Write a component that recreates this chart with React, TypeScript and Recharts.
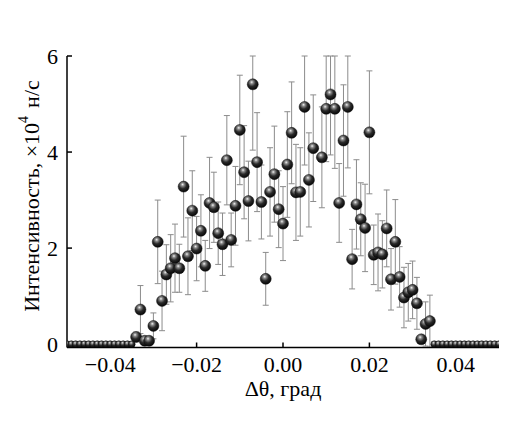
import React from 'react';
import { ScatterChart, Scatter, XAxis, YAxis, ErrorBar, Label } from 'recharts';

// measured points (Δθ in degrees, intensity in 1e4 counts/s)
const xCentral = [
  -0.034, -0.033, -0.032, -0.031, -0.03, -0.029, -0.028, -0.027, -0.026, -0.025,
  -0.024, -0.023, -0.022, -0.021, -0.02, -0.019, -0.018, -0.017, -0.016, -0.015,
  -0.014, -0.013, -0.012, -0.011, -0.01, -0.009, -0.008, -0.007, -0.006, -0.005,
  -0.004, -0.003, -0.002, -0.001, 0.0, 0.001, 0.002, 0.003, 0.004, 0.005,
  0.006, 0.007, 0.009, 0.01, 0.011, 0.012, 0.013, 0.014, 0.015,
  0.016, 0.017, 0.018, 0.019, 0.02, 0.021, 0.022, 0.023, 0.024, 0.025,
  0.026, 0.027, 0.028, 0.029, 0.03, 0.031, 0.032, 0.033, 0.034,
];
const yCentral = [
  0.15, 0.72, 0.07, 0.07, 0.38, 2.13, 0.9, 1.45, 1.58, 1.79,
  1.58, 3.28, 1.83, 2.78, 1.99, 2.36, 1.63, 2.94, 2.85, 2.31,
  2.08, 3.83, 2.17, 2.88, 4.46, 3.58, 2.98, 5.41, 3.79, 2.96,
  1.36, 3.17, 3.54, 2.81, 2.51, 3.74, 4.4, 3.16, 3.17, 4.94,
  3.42, 4.08, 3.89, 4.9, 5.2, 4.9, 2.94, 4.24, 4.94,
  1.77, 2.91, 2.6, 2.42, 4.41, 1.86, 1.91, 1.87, 2.41, 1.35,
  2.13, 1.4, 0.97, 1.08, 1.13, 0.85, 0.1, 0.42, 0.48,
];
const errCentral = [
  0.1, 0.5, 0.05, 0.05, 0.27, 0.87, 0.62, 0.62, 0.7, 0.71,
  0.5, 1.05, 0.8, 0.83, 0.67, 0.75, 0.53, 0.95, 0.73, 0.65,
  0.65, 0.93, 0.56, 0.82, 1.14, 0.97, 0.83, 1.37, 1.03, 0.77,
  0.55, 0.92, 1.0, 0.8, 0.77, 1.1, 1.06, 1.0, 0.92, 1.21,
  0.98, 1.11, 1.05, 1.1, 1.26, 1.24, 0.82, 1.16, 1.27,
  0.62, 0.93, 0.76, 0.91, 1.28, 0.62, 0.8, 0.7, 0.8, 0.64,
  0.88, 0.63, 0.63, 0.6, 0.6, 0.54, 0.05, 0.46, 0.54,
];

// background points outside the peak
const xZeroLeft = [
  -0.05, -0.049, -0.048, -0.047, -0.046, -0.045, -0.044, -0.043,
  -0.042, -0.041, -0.04, -0.039, -0.038, -0.037, -0.036, -0.035,
];
const xZeroRight = [
  0.035, 0.036, 0.037, 0.038, 0.039, 0.04, 0.041, 0.042,
  0.043, 0.044, 0.045, 0.046, 0.047, 0.048, 0.049, 0.05,
];

const xTicks = [-0.04, -0.02, 0, 0.02, 0.04];
const yTicks = [0, 2, 4, 6];
const Y_MAX = 6;

// error range is [down, up]; the upper part is cut at the top of the frame
const peakData = xCentral.map((x, i) => ({
  x,
  y: yCentral[i],
  errRange: [errCentral[i], Math.max(0, Math.min(errCentral[i], Y_MAX - yCentral[i]))],
}));
const zeroData = [...xZeroLeft, ...xZeroRight].map((x) => ({ x, y: 0 }));

const FONT = '"Liberation Serif", "Times New Roman", serif';

function formatX(v: number): string {
  const s = Math.abs(v).toFixed(2);
  return v < 0 ? `\u2212${s}` : s;
}

const Ball = (r: number) => (props: any) => {
  if (props.cx == null || props.cy == null) return null;
  return <circle cx={props.cx} cy={props.cy} r={r} fill="url(#ball)" stroke="#111" strokeWidth={0.5} />;
};

function YTitle() {
  const cx = 31;
  const cy = 196;
  return (
    <text
      x={cx}
      y={cy}
      transform={`rotate(-90 ${cx} ${cy})`}
      textAnchor="middle"
      dominantBaseline="central"
      fontFamily={FONT}
      fontSize={22}
      fill="#000"
    >
      Интенсивность, ×10
      <tspan baselineShift="super" fontSize={14}>4</tspan>
      <tspan dx={8}>н/с</tspan>
    </text>
  );
}

export default function App() {
  return (
    <div style={{ position: 'absolute', left: 0, top: 0, width: 528, height: 421, background: '#fff' }}>
      <ScatterChart width={528} height={421} margin={{ top: 56, right: 29, bottom: 43.5, left: 7 }}>
        <defs>
          <radialGradient id="ball" cx="0.42" cy="0.35" r="0.65" fx="0.4" fy="0.3">
            <stop offset="0%" stopColor="#f2f2f2" />
            <stop offset="22%" stopColor="#8a8a8a" />
            <stop offset="55%" stopColor="#2a2a2a" />
            <stop offset="100%" stopColor="#050505" />
          </radialGradient>
        </defs>
        <XAxis
          type="number"
          dataKey="x"
          domain={[-0.05, 0.05]}
          allowDataOverflow
          ticks={xTicks}
          tickFormatter={formatX}
          height={30}
          stroke="#000"
          strokeWidth={1.5}
          tickSize={-5}
          tickMargin={13.5}
          tick={{ fill: '#000', fontSize: 22, fontFamily: FONT }}
        >
          <Label
            value="Δθ, град"
            position="bottom"
            offset={3}
            style={{ fill: '#000', fontSize: 22, fontFamily: FONT }}
          />
        </XAxis>
        <YAxis
          type="number"
          dataKey="y"
          domain={[-0.07, Y_MAX]}
          allowDataOverflow
          ticks={yTicks}
          width={60}
          stroke="#000"
          strokeWidth={1.5}
          tickSize={-5}
          tickMargin={14}
          tick={{ fill: '#000', fontSize: 22, fontFamily: FONT }}
        >
          <Label content={() => <YTitle />} />
        </YAxis>
        <Scatter data={zeroData} shape={Ball(3.4)} isAnimationActive={false} />
        <Scatter data={peakData} shape={Ball(5.5)} isAnimationActive={false}>
          <ErrorBar dataKey="errRange" direction="y" width={3} stroke="#8c8c8c" strokeWidth={1} />
        </Scatter>
      </ScatterChart>
    </div>
  );
}
